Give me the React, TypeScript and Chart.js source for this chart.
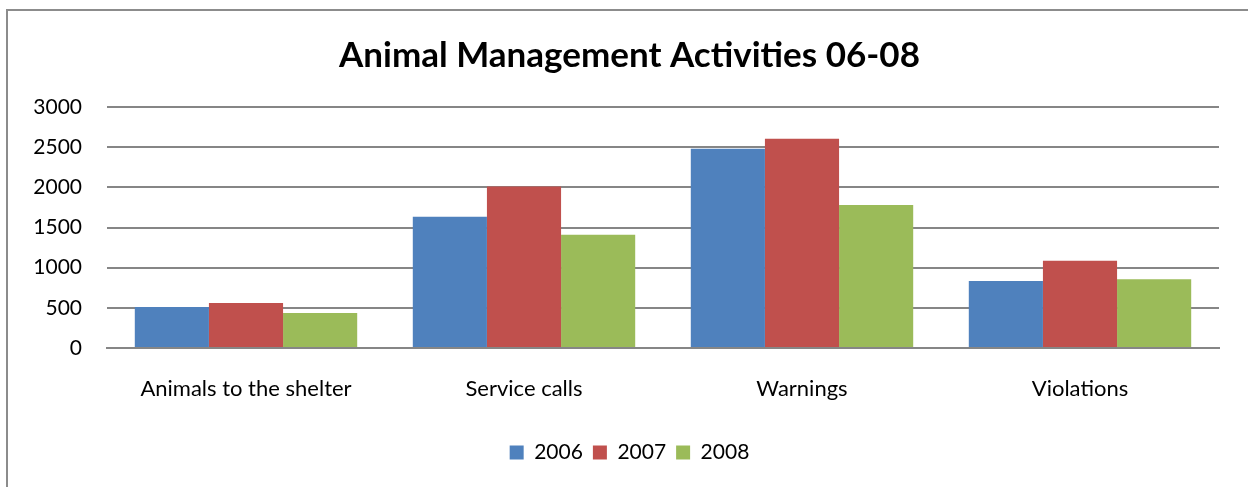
import React, { useEffect, useRef } from "react";
import { Chart, registerables } from "chart.js";

Chart.register(...registerables);

const categories = ["Animals to the shelter", "Service calls", "Warnings", "Violations"];
const years = ["2006", "2007", "2008"];
const values2006 = [510, 1635, 2480, 835];
const values2007 = [560, 2010, 2605, 1085];
const values2008 = [435, 1410, 1780, 855];
const yTicks = [0, 500, 1000, 1500, 2000, 2500, 3000];
const colors = ["#4F81BD", "#C0504D", "#9BBB59"];

const FONT = "Lato, 'Noto Sans', sans-serif";

const centerShift = {
  id: "centerShift",
  afterLayout(chart: any) {
    const shift = 20;
    for (const box of [chart.titleBlock, chart.legend]) {
      if (box) {
        box.left += shift;
        box.right += shift;
      }
    }
  },
};

export default function App() {
  const ref = useRef<HTMLCanvasElement | null>(null);
  useEffect(() => {
    if (!ref.current) return;
    const series = [values2006, values2007, values2008];
    const chart = new Chart(ref.current, {
      type: "bar",
      data: {
        labels: categories,
        datasets: years.map((y, i) => ({
          label: y,
          data: series[i],
          backgroundColor: colors[i],
          borderWidth: 0,
          barPercentage: 1.0,
          categoryPercentage: 0.8,
        })),
      },
      plugins: [centerShift],
      options: {
        animation: false,
        responsive: false,
        maintainAspectRatio: false,
        layout: { padding: { left: 0, right: 29, top: 0, bottom: 14 } },
        plugins: {
          title: {
            display: true,
            text: "Animal Management Activities 06-08",
            color: "#000",
            font: { family: FONT, size: 35, weight: "bold" },
            padding: { top: 35, bottom: 30 },
          },
          legend: {
            position: "bottom",
            labels: {
              color: "#000",
              font: { family: FONT, size: 21 },
              boxWidth: 14,
              boxHeight: 14,
              padding: 10,
            },
          },
          tooltip: { enabled: false },
        },
        scales: {
          x: {
            grid: { display: false, drawTicks: false },
            border: { color: "#868686", width: 2 },
            ticks: { color: "#000", font: { family: FONT, size: 22 }, padding: 28 },
            afterFit: (s: any) => { s.height = 84; },
          },
          y: {
            min: 0,
            max: 3000,
            afterBuildTicks: (s: any) => { s.ticks = yTicks.map((v) => ({ value: v })); },
            grid: { color: "#868686", lineWidth: 2, drawTicks: false },
            border: { display: false },
            ticks: {
              color: "#000",
              font: { family: FONT, size: 21 },
              padding: 25,
              callback: (v: any) => String(v),
            },
            afterFit: (s: any) => { s.width = 107; },
          },
        },
      },
    });
    return () => chart.destroy();
  }, []);
  return (
    <div style={{ position: "absolute", left: 0, top: 0, width: 1248, height: 487, background: "#fff", overflow: "hidden" }}>
      <div style={{ position: "absolute", left: 6, top: 9, width: 1260, height: 500, border: "2px solid #8c8c8c", boxSizing: "border-box" }} />
      <canvas ref={ref} width={1248} height={487} style={{ position: "absolute", left: 0, top: 0 }} />
    </div>
  );
}
